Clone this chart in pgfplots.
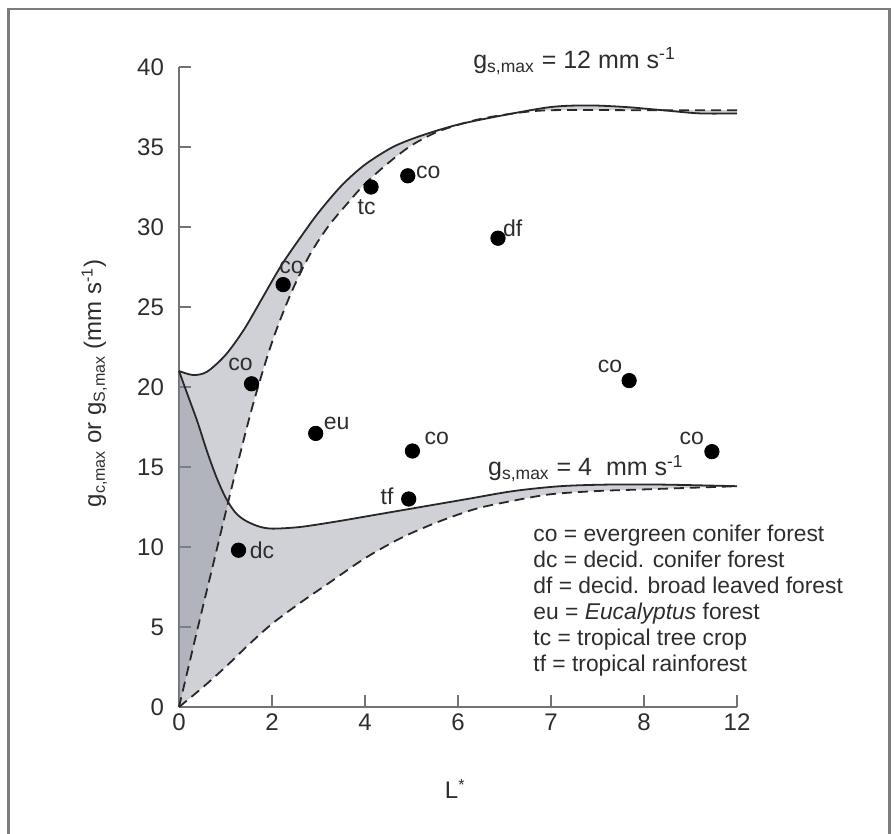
\documentclass[border=0pt]{standalone}
\usepackage{pgfplots}
\pgfplotsset{compat=1.18}
\usepgfplotslibrary{fillbetween}
\usepackage{fontspec}
\setmainfont{Liberation Sans}

\definecolor{curve}{RGB}{40,40,40}
\definecolor{axisgray}{RGB}{115,115,115}
\definecolor{shade}{RGB}{128,134,148}
\definecolor{framegray}{RGB}{125,125,125}
\definecolor{txt}{RGB}{45,45,45}

\begin{document}
\begin{tikzpicture}
\begin{axis}[
  at={(89.5pt,-353.5pt)}, anchor=south west,
  scale only axis, width=279pt, height=320pt,
  xmin=0, xmax=6, ymin=0, ymax=40,
  clip=false,
  axis lines=left, axis line style={-, axisgray, line width=0.6pt},
  tick align=inside, major tick length=6pt,
  tick style={axisgray, line width=0.6pt},
  xtick={0,1,2,3,4,5,6}, xticklabels={0,2,4,6,7,8,12},
  ytick={0,5,...,40},
  /pgf/number format/assume math mode=true,
  tick label style={font=\fontsize{12}{14}\selectfont, text=txt},
  yticklabel style={xshift=-4pt},
  xlabel={L\textsuperscript{*}},
  ylabel={g\textsubscript{c,max} or g\textsubscript{S,max} (mm s\textsuperscript{-1})},
  every axis x label/.style={at={(axis description cs:0.495,-0.128)},anchor=center},
  every axis y label/.style={at={(axis description cs:-0.152,0.506)},anchor=center,rotate=90},
  label style={font=\fontsize{12}{14}\selectfont, text=txt},
]
% canopy conductance envelope for g_s,max = 12 mm/s
\addplot[curve, line width=0.9pt, smooth, name path=s12] coordinates {
  (0,21.0) (0.15,20.75) (0.3,20.95) (0.5,22.0) (0.7,23.6) (0.9,25.6)
  (1.1,27.6) (1.3,29.3) (1.5,30.9) (1.75,32.6) (2.0,33.9) (2.3,35.0)
  (2.6,35.7) (3.0,36.4) (3.5,37.0) (4.0,37.5) (4.4,37.6) (4.8,37.5)
  (5.2,37.3) (5.6,37.1) (6.0,37.1)};
\addplot[curve, line width=0.9pt, smooth, dash pattern=on 5pt off 3pt, name path=d12] coordinates {
  (0,0) (0.2,4.9) (0.4,9.7) (0.6,14.5) (0.8,19.0) (1.0,22.8) (1.2,25.8)
  (1.4,28.2) (1.6,30.0) (1.8,31.4) (2.0,32.7) (2.25,34.0) (2.5,35.1)
  (2.8,36.0) (3.2,36.7) (3.6,37.1) (4.0,37.3) (5.0,37.3) (6.0,37.3)};
% envelope for g_s,max = 4 mm/s
\addplot[curve, line width=0.9pt, smooth, name path=s4] coordinates {
  (0,21.0) (0.1,19.4) (0.2,17.8) (0.3,16.0) (0.4,14.4) (0.5,13.1)
  (0.6,12.2) (0.7,11.7) (0.85,11.3) (1.0,11.15) (1.3,11.25) (1.7,11.6)
  (2.1,12.0) (2.6,12.5) (3.1,13.0) (3.6,13.5) (4.1,13.8) (4.6,13.9)
  (5.2,13.9) (6.0,13.8)};
\addplot[curve, line width=0.9pt, smooth, dash pattern=on 5pt off 3pt, name path=d4] coordinates {
  (0,0) (0.25,1.2) (0.5,2.5) (0.75,3.9) (1.0,5.2) (1.3,6.5) (1.6,7.7)
  (2.0,9.3) (2.4,10.6) (2.8,11.6) (3.2,12.4) (3.6,12.9) (4.0,13.3)
  (4.5,13.5) (5.0,13.6) (5.5,13.7) (6.0,13.8)};
\addplot[fill=shade, fill opacity=0.38, draw=none] fill between[of=s12 and d12];
\addplot[fill=shade, fill opacity=0.38, draw=none] fill between[of=s4 and d4];

% measured stands
\addplot[only marks, mark=*, mark size=3.6pt, black] coordinates {
  (2.46,33.2) (2.065,32.5) (3.43,29.3) (1.12,26.4) (0.78,20.2)
  (1.47,17.1) (2.51,16.0) (2.47,13.0) (0.64,9.8) (5.73,15.96) (4.84,20.4)};

\begin{scope}[every node/.style={font=\fontsize{11.5}{13}\selectfont, text=txt, inner sep=0pt}]
\node[xshift=10.2pt, yshift=1.5pt] at (axis cs:2.46,33.2) {co};
\node[xshift=-2.2pt, yshift=-10.3pt] at (axis cs:2.065,32.5) {tc};
\node[xshift=7.3pt, yshift=5.2pt] at (axis cs:3.43,29.3) {df};
\node[xshift=4.2pt, yshift=8.6pt] at (axis cs:1.12,26.4) {co};
\node[xshift=-5.5pt, yshift=9.5pt] at (axis cs:0.78,20.2) {co};
\node[xshift=10.5pt, yshift=5pt] at (axis cs:1.47,17.1) {eu};
\node[xshift=12.2pt, yshift=6.2pt] at (axis cs:2.51,16.0) {co};
\node[xshift=-10.8pt, yshift=1.6pt] at (axis cs:2.47,13.0) {tf};
\node[xshift=11.7pt] at (axis cs:0.64,9.8) {dc};
\node[xshift=-10pt, yshift=6.7pt] at (axis cs:5.73,15.96) {co};
\node[xshift=-9.5pt, yshift=7pt] at (axis cs:4.84,20.4) {co};
\end{scope}

\begin{scope}[every node/.style={font=\fontsize{12.5}{14}\selectfont, text=txt, inner sep=0pt, anchor=base west}]
\node at (axis cs:3.16,39.9) {g\textsubscript{s,max} = 12 mm s\textsuperscript{-1}};
\node at (axis cs:3.32,14.44) {g\textsubscript{s,max} = 4\ \ mm s\textsuperscript{-1}};
\end{scope}

\begin{scope}[every node/.style={font=\fontsize{11.4}{13}\selectfont, text=txt, inner sep=0pt, anchor=base west}]
\node at (axis cs:3.807,10.375) {co = evergreen conifer forest};
\node at (axis cs:3.807,8.75) {dc = decid. conifer forest};
\node at (axis cs:3.807,7.125) {df = decid. broad leaved forest};
\node at (axis cs:3.807,5.5) {eu = \textit{Eucalyptus} forest};
\node at (axis cs:3.807,3.875) {tc = tropical tree crop};
\node at (axis cs:3.807,2.25) {tf = tropical rainforest};
\end{scope}
\end{axis}
% page frame
\draw[framegray, line width=1.4pt] (444.6pt,-417pt) -- (444.6pt,-4.5pt) -- (4.2pt,-4.5pt) -- (4.2pt,-417pt);
\pgfresetboundingbox
\path[use as bounding box] (0pt,0pt) rectangle (447pt,-417pt);
\end{tikzpicture}
\end{document}
